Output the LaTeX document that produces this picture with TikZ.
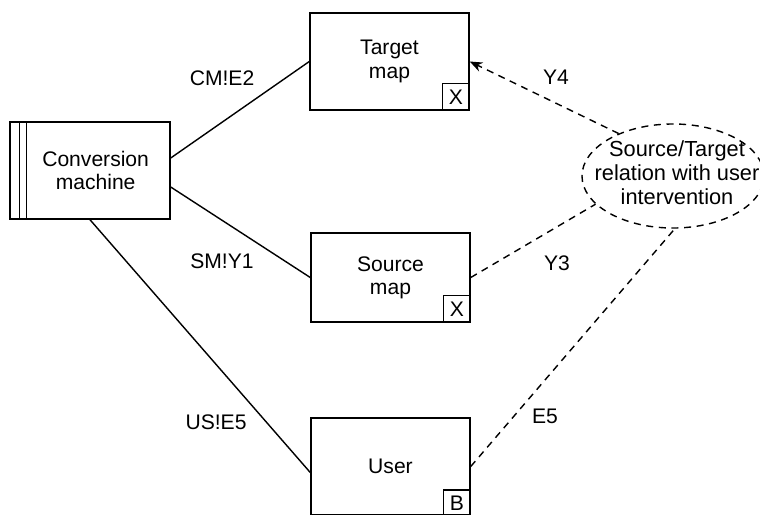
\documentclass[tikz,border=0pt]{standalone}
\usepackage{fontspec}
\setmainfont{Liberation Sans}
\usetikzlibrary{arrows.meta, positioning, calc, shapes.geometric}

\begin{document}
\begin{tikzpicture}[x=0.025cm, y=-0.025cm,
    every node/.style={font=\fontsize{15}{16.5}\selectfont},
    domainbox/.style={draw, line width=1pt, align=center, minimum width=3.975cm, minimum height=2.425cm},
    markbox/.style={draw, line width=1pt, inner sep=0pt, minimum width=0.66cm, minimum height=0.66cm},
    relellipse/.style={draw, ellipse, dash pattern=on 5pt off 4pt, line width=1pt, inner sep=0pt, minimum width=4.55cm, minimum height=2.6cm},
    link/.style={line width=1pt},
    dlink/.style={line width=1pt, dash pattern=on 5pt off 4pt}]
            \useasboundingbox (0,0) rectangle (760,514);

            % machine domain with its double stripe
            \node[domainbox, minimum width=4cm] (conv) at (90,170.5) {\hspace{8pt}Conversion\\\hspace{8pt}machine};
            \draw[link] ($(conv.north west)+(10,0)$) -- ($(conv.south west)+(10,0)$);
            \draw[link] ($(conv.north west)+(17,0)$) -- ($(conv.south west)+(17,0)$);

            % given domains
            \node[domainbox] (target) at (389.5,61.5) {Target\\map};
            \node[markbox, anchor=south east] (targetx) at (target.south east) {X};

            \node[domainbox, minimum height=2.225cm] (source) at (390.5,277.5) {Source\\map};
            \node[markbox, anchor=south east] (sourcex) at (source.south east) {X};

            \node[domainbox] (user) at (390.5,466.5) {User};
            \node[markbox, anchor=north east] (userb) at ($(user.north east)+(0,72)$) {B};

            % requirement
            \node[relellipse] (rel) at (673,176) {};
            \node[align=center, font=\fontsize{15.5}{17}\selectfont] (reltext) at (677,173) {Source/Target\\relation with user\\intervention};

            % interfaces
            \draw[link] ($(conv.east)+(0,-12.5)$) -- (target.west);
            \draw[link] ($(conv.east)+(0,16.5)$) -- (source.west);
            \draw[link] (conv.south) -- ($(user.west)+(0,6)$);

            \node (lcm) at (222,78) {CM!E2};
            \node (lsm) at (222,261) {SM!Y1};
            \node (lus) at (216,422) {US!E5};

            % requirement references
            \draw[dlink, -{Stealth[length=9pt, width=7pt]}] (rel.142) -- (target.east);
            \draw[dlink] (source.east) -- (rel.200);
            \draw[dlink] (user.east) -- (rel.272);

            \node (ly4) at (556,77) {Y4};
            \node (ly3) at (557,263) {Y3};
            \node (le5) at (545,416) {E5};
            \end{tikzpicture}
\end{document}
